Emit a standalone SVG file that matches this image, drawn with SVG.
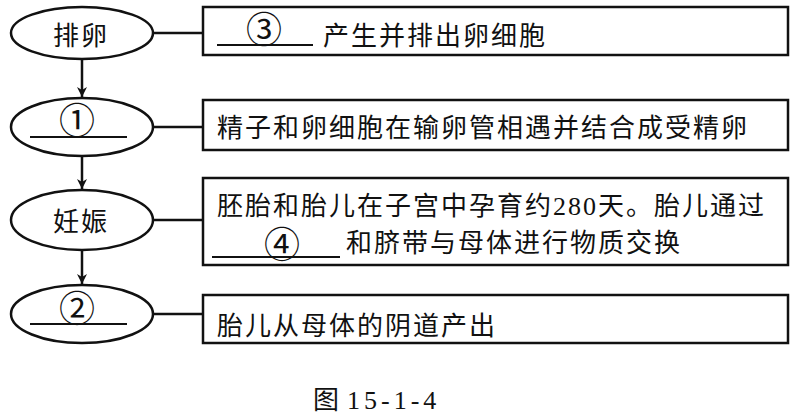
<svg xmlns="http://www.w3.org/2000/svg" width="792" height="419" viewBox="0 0 792 419">
<style>
.sh{fill:#fff;stroke:#111;stroke-width:2.5}
.ln{stroke:#111;stroke-width:2.5;fill:none}
.ul{stroke:#111;stroke-width:2}
text{font-family:"Liberation Serif","Noto Sans CJK SC",serif;font-size:26px;fill:#111;letter-spacing:2px}
.c{text-anchor:middle}
.n{font-family:"Noto Sans CJK SC",sans-serif;font-size:36px;letter-spacing:0}
.cap{font-size:26px;letter-spacing:0}
</style>
<defs>
<marker id="ah" viewBox="0 0 10 10" refX="10" refY="5" markerWidth="10" markerHeight="12" markerUnits="userSpaceOnUse" orient="auto">
<path d="M0,0 L10,5 L0,10 L3,5 Z" fill="#111"/>
</marker>
</defs>
<g id="connectors">
<line class="ln" x1="82" y1="60" x2="82" y2="97" marker-end="url(#ah)"/>
<line class="ln" x1="82" y1="157" x2="82" y2="189" marker-end="url(#ah)"/>
<line class="ln" x1="82" y1="250" x2="82" y2="284" marker-end="url(#ah)"/>
<line class="ln" x1="153" y1="33" x2="203" y2="33"/>
<line class="ln" x1="153" y1="127" x2="203" y2="127"/>
<line class="ln" x1="153" y1="220" x2="203" y2="220"/>
<line class="ln" x1="153" y1="314" x2="203" y2="314"/>
</g>
<g id="n1">
<ellipse class="sh" cx="82" cy="33" rx="71" ry="26"/>
<text class="c" x="81" y="45">排卵</text>
</g>
<g id="n2">
<ellipse class="sh" cx="82" cy="127" rx="71" ry="29"/>
<text class="c n" x="77" y="134">①</text>
<line class="ul" x1="30" y1="137" x2="127" y2="137"/>
</g>
<g id="n3">
<ellipse class="sh" cx="82" cy="220" rx="71" ry="30"/>
<text class="c" x="81" y="231">妊娠</text>
</g>
<g id="n4">
<ellipse class="sh" cx="82" cy="314" rx="71" ry="29"/>
<text class="c n" x="77" y="322">②</text>
<line class="ul" x1="30" y1="324" x2="127" y2="324"/>
</g>
<g id="b1">
<rect class="sh" x="203" y="7" width="585" height="48"/>
<text class="c n" x="264" y="43">③</text>
<line class="ul" x1="217" y1="45" x2="313" y2="45"/>
<text x="323" y="45">产生并排出卵细胞</text>
</g>
<g id="b2">
<rect class="sh" x="203" y="100" width="585" height="50"/>
<text x="217" y="137">精子和卵细胞在输卵管相遇并结合成受精卵</text>
</g>
<g id="b3">
<rect class="sh" x="203" y="178" width="585" height="87"/>
<text x="217" y="215">胚胎和胎儿在子宫中孕育约280天。胎儿通过</text>
<text class="c n" x="282" y="258">④</text>
<line class="ul" x1="212" y1="257" x2="340" y2="257"/>
<text x="346" y="252">和脐带与母体进行物质交换</text>
</g>
<g id="b4">
<rect class="sh" x="203" y="295" width="585" height="48"/>
<text x="217" y="335">胎儿从母体的阴道产出</text>
</g>
<text class="cap" x="313" y="409">图</text>
<text class="cap" x="347" y="409" style="letter-spacing:4px">15-1-4</text>
</svg>
